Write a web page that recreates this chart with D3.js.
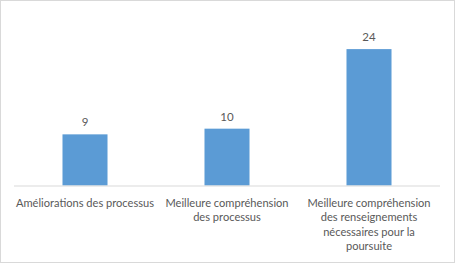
<!DOCTYPE html>
<html>
<head>
<meta charset="utf-8">
<script src="https://cdn.jsdelivr.net/npm/d3@7"></script>
<style>
  body { margin: 0; background: #fff; }
  text { font-family: Lato, "Open Sans", sans-serif; fill: #595959; }
</style>
</head>
<body>
<div id="chart"></div>
<script>
var categories = [
    "Améliorations des processus",
    "Meilleure compréhension|des processus",
    "Meilleure compréhension|des renseignements|nécessaires pour la|poursuite"
];
var values = [9, 10, 24];

var width = 455,
    height = 263,
    margin = {top: 15, right: 15, bottom: 77.5, left: 14};

var svg = d3.select('#chart')
    .append('svg')
    .attr('width', width)
    .attr('height', height);

// frame
svg.append('rect')
    .attr('x', 0.5).attr('y', 0.5)
    .attr('width', width - 1).attr('height', height - 1)
    .attr('fill', '#fff')
    .attr('stroke', '#d9d9d9');

var x = d3.scaleBand()
    .domain(categories)
    .range([margin.left, width - margin.right])
    .paddingInner(0.683)
    .paddingOuter(0.3415);

var y = d3.scaleLinear()
    .domain([0, 30])
    .range([height - margin.bottom, margin.top]);

var data = categories.map(function (c, i) { return {cat: c, value: values[i]}; });

svg.selectAll('rect.bar')
    .data(data)
    .enter()
    .append('rect')
    .classed('bar', true)
    .attr('x', function (d) { return x(d.cat); })
    .attr('y', function (d) { return y(d.value); })
    .attr('width', x.bandwidth())
    .attr('height', function (d) { return y(0) - y(d.value); })
    .attr('fill', '#5b9bd5');

// value labels
svg.selectAll('text.val')
    .data(data)
    .enter()
    .append('text')
    .classed('val', true)
    .attr('x', function (d) { return x(d.cat) + x.bandwidth() / 2; })
    .attr('y', function (d) { return y(d.value) - 8; })
    .attr('text-anchor', 'middle')
    .style('font-size', '11.5px')
    .text(function (d) { return d.value; });

// x axis
var xAxis = svg.append('g')
    .attr('transform', 'translate(0,' + y(0) + ')')
    .call(d3.axisBottom(x).tickSize(0).tickFormat(''));
xAxis.select('.domain').attr('stroke', '#d9d9d9').attr('d', 'M' + margin.left + ',0.5H' + (width - margin.right));

var labels = svg.selectAll('text.cat')
    .data(categories)
    .enter()
    .append('text')
    .classed('cat', true)
    .attr('text-anchor', 'middle')
    .style('font-size', '11.1px');

labels.each(function (c) {
    var el = d3.select(this),
        cx = x(c) + x.bandwidth() / 2;
    c.split('|').forEach(function (line, i) {
        el.append('tspan')
            .attr('x', cx)
            .attr('y', y(0) + 21 + i * 14.6)
            .text(line);
    });
});
</script>
</body>
</html>
